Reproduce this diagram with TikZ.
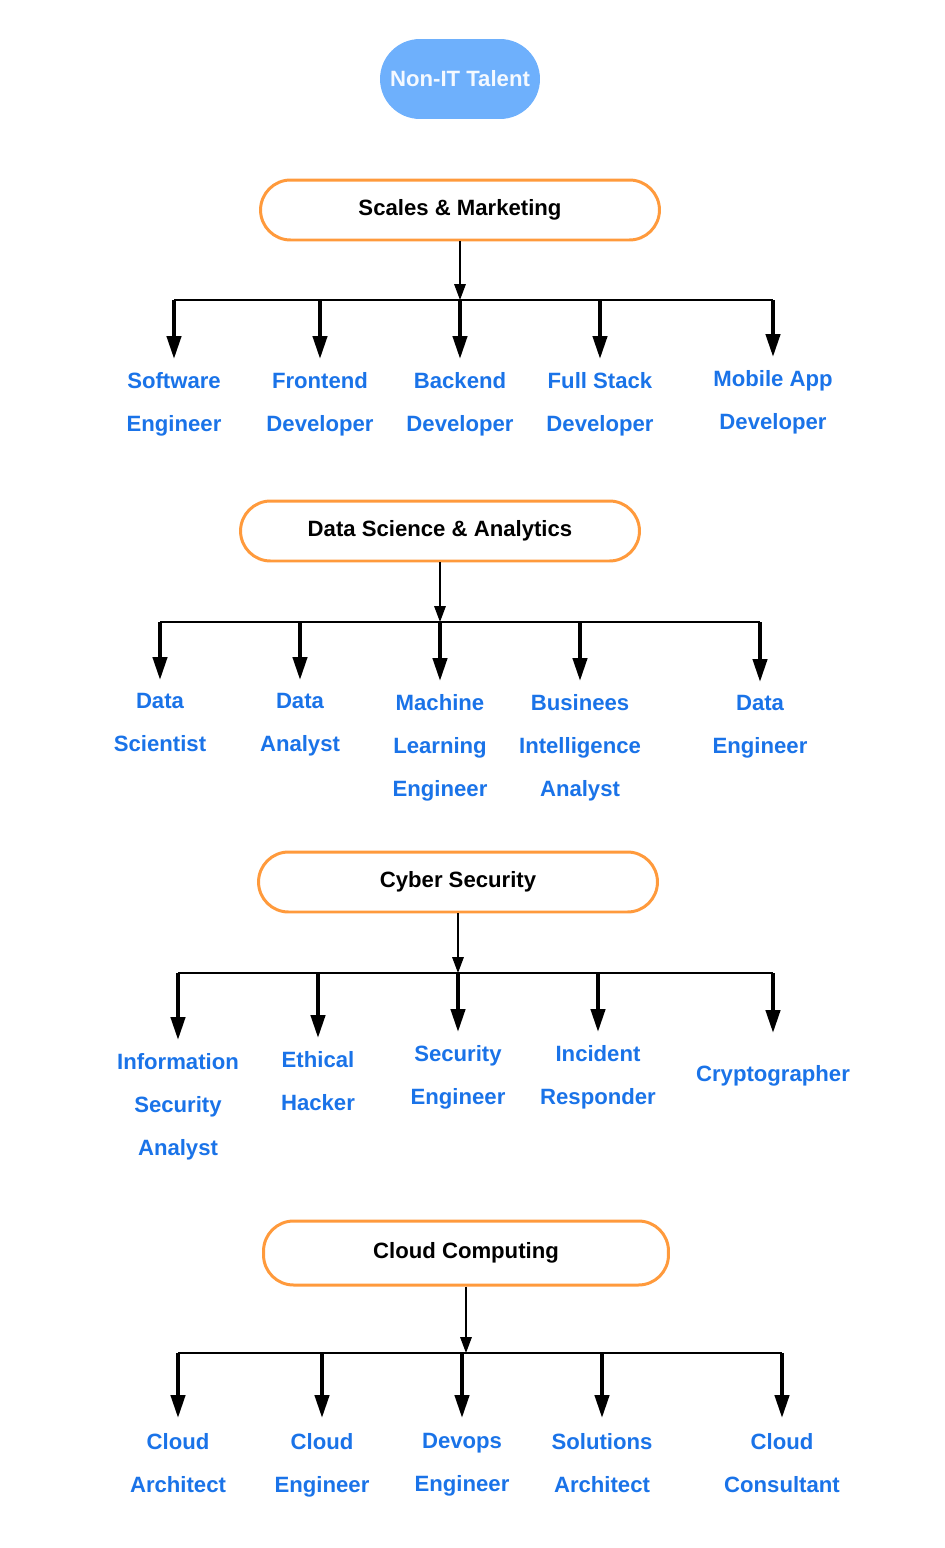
\documentclass[tikz,border=0pt]{standalone}
\usepackage{fontspec}
\setmainfont{Liberation Sans}
\usetikzlibrary{arrows.meta}
\definecolor{talentBlue}{HTML}{6EB0FC}
\definecolor{roleBlue}{HTML}{1A73E8}
\definecolor{boxOrange}{HTML}{FF9A3C}
\tikzstyle{pillNode} = [rectangle, minimum width=3.2cm, minimum height=1.6cm, rounded corners=0.8cm, fill=talentBlue, text=white!92!talentBlue, font=\fontsize{12.6}{15}\selectfont\bfseries]
\tikzstyle{recNodeO} = [rectangle, minimum width=7.98cm, minimum height=1.2cm, text centered, rounded corners=0.6cm, draw=boxOrange, line width=1.7pt, text=black, font=\fontsize{12.6}{15}\selectfont\bfseries]
\tikzstyle{jobNode} = [align=center, anchor=north, inner sep=0pt, text=roleBlue, font=\fontsize{12.6}{24.4}\selectfont\bfseries]
\tikzstyle{feedArrow} = [line width=0.85pt, -{Triangle[width=6.5pt,length=9pt]}, draw=black]
\tikzstyle{barLine} = [line width=1.4pt, draw=black]
\tikzstyle{dropArrow} = [line width=2.2pt, -{Triangle[width=8pt,length=13pt]}, draw=black, shorten >=0.26cm]

\begin{document}
\begin{tikzpicture}[x=0.02cm, y=-0.02cm]
        \useasboundingbox (0,0) rectangle (944,1548);
        \node (talent) [pillNode] at (460,79) {Non-IT Talent};

        % Scales & Marketing
        \node (sales) [recNodeO] at (460,210) {Scales \& Marketing};
        \coordinate (j1) at (460,300);
        \node (se) [jobNode] at (174,372) {Software\\Engineer};
        \node (fe) [jobNode] at (320,372) {Frontend\\Developer};
        \node (be) [jobNode] at (460,372) {Backend\\Developer};
        \node (fs) [jobNode] at (600,372) {Full Stack\\Developer};
        \node (ma) [jobNode] at (773,370) {Mobile App\\Developer};

        \draw [feedArrow] (sales) -- (j1);
        \draw [barLine] (se.north |- j1) -- (ma.north |- j1);
        \draw [dropArrow] (se.north |- j1) -- (se.north);
        \draw [dropArrow] (fe.north |- j1) -- (fe.north);
        \draw [dropArrow] (be.north |- j1) -- (be.north);
        \draw [dropArrow] (fs.north |- j1) -- (fs.north);
        \draw [dropArrow] (ma.north |- j1) -- (ma.north);

        % Data Science & Analytics
        \node (dataSci) [recNodeO] at (440,531) {Data Science \& Analytics};
        \coordinate (j2) at (440,622);
        \node (ds) [jobNode] at (160,693) {Data\\Scientist};
        \node (da) [jobNode] at (300,693) {Data\\Analyst};
        \node (ml) [jobNode] at (440,694) {Machine\\Learning\\Engineer};
        \node (bi) [jobNode] at (580,694) {Businees\\Intelligence\\Analyst};
        \node (de) [jobNode] at (760,695) {Data\\Engineer};

        \draw [feedArrow] (dataSci) -- (j2);
        \draw [barLine] (ds.north |- j2) -- (de.north |- j2);
        \draw [dropArrow] (ds.north |- j2) -- (ds.north);
        \draw [dropArrow] (da.north |- j2) -- (da.north);
        \draw [dropArrow] (ml.north |- j2) -- (ml.north);
        \draw [dropArrow] (bi.north |- j2) -- (bi.north);
        \draw [dropArrow] (de.north |- j2) -- (de.north);

        % Cyber Security
        \node (cyber) [recNodeO] at (458,882) {Cyber Security};
        \coordinate (j3) at (458,973);
        \node (isa) [jobNode] at (178,1053) {Information\\Security\\Analyst};
        \node (eh) [jobNode] at (318,1051) {Ethical\\Hacker};
        \node (sec) [jobNode] at (458,1045) {Security\\Engineer};
        \node (ir) [jobNode] at (598,1045) {Incident\\Responder};
        \node (cg) [jobNode] at (773,1065) {Cryptographer};

        \draw [feedArrow] (cyber) -- (j3);
        \draw [barLine] (isa.north |- j3) -- (cg.north |- j3);
        \draw [dropArrow] (isa.north |- j3) -- (isa.north);
        \draw [dropArrow] (eh.north |- j3) -- (eh.north);
        \draw [dropArrow] (sec.north |- j3) -- (sec.north);
        \draw [dropArrow] (ir.north |- j3) -- (ir.north);
        \draw [dropArrow, shorten >=0.64cm] (cg.north |- j3) -- (cg.north);

        % Cloud Computing
        \node (cloud) [recNodeO, minimum width=8.1cm, minimum height=1.28cm] at (466,1253) {Cloud Computing};
        \coordinate (j4) at (466,1353);
        \node (ca) [jobNode] at (178,1433) {Cloud\\Architect};
        \node (ce) [jobNode] at (322,1433) {Cloud\\Engineer};
        \node (doe) [jobNode] at (462,1433) {Devops\\Engineer};
        \node (sa) [jobNode] at (602,1433) {Solutions\\Architect};
        \node (cc) [jobNode] at (782,1433) {Cloud\\Consultant};

        \draw [feedArrow] (cloud) -- (j4);
        \draw [barLine] (ca.north |- j4) -- (cc.north |- j4);
        \draw [dropArrow, shorten >=0.3cm] (ca.north |- j4) -- (ca.north);
        \draw [dropArrow, shorten >=0.3cm] (ce.north |- j4) -- (ce.north);
        \draw [dropArrow, shorten >=0.3cm] (doe.north |- j4) -- (doe.north);
        \draw [dropArrow, shorten >=0.3cm] (sa.north |- j4) -- (sa.north);
        \draw [dropArrow, shorten >=0.3cm] (cc.north |- j4) -- (cc.north);
    \end{tikzpicture}
\end{document}
